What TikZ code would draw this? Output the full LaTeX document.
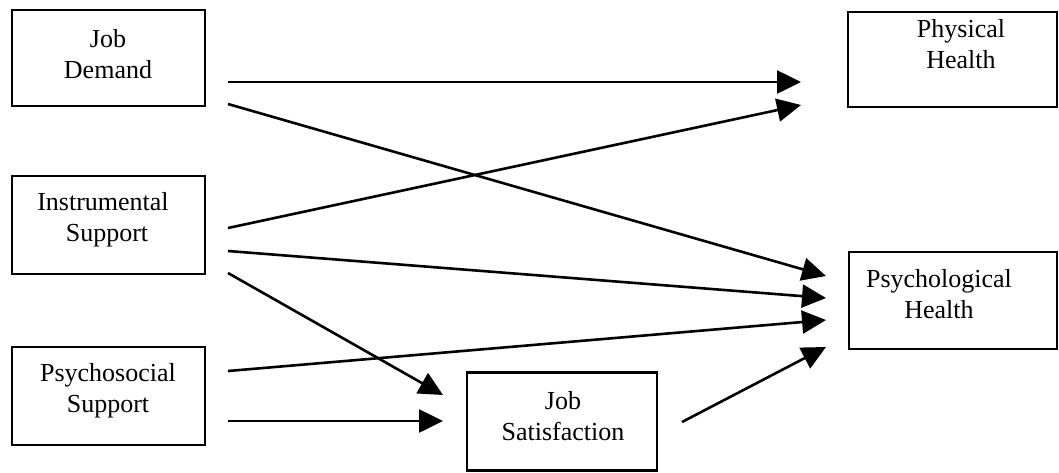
\documentclass[tikz,border=0pt]{standalone}
\usepackage{fontspec}
\setmainfont{Liberation Serif}
\usetikzlibrary{arrows.meta}
\begin{document}
\begin{tikzpicture}[x=1pt,y=-1pt,
  box/.style={draw=black,line width=2.6pt,rectangle,inner sep=0pt},
  txt/.style={align=center,inner sep=0pt,font=\fontsize{26}{31}\selectfont},
  arr/.style={line width=2.6pt,-{Triangle[length=24pt,width=23pt]}}]
\useasboundingbox (0,0) rectangle (1059,472);
% boxes
\node[box,minimum width=193pt,minimum height=96pt] (jd) at (108.5,58) {};
\node[box,minimum width=193pt,minimum height=98pt] (is) at (108.5,225) {};
\node[box,minimum width=193pt,minimum height=98pt] (ps) at (108.5,396) {};
\node[box,minimum width=209pt,minimum height=95pt] (ph) at (952.5,59.5) {};
\node[box,minimum width=208pt,minimum height=97pt] (pyh) at (953,300.5) {};
\node[box,minimum width=190pt,minimum height=98pt] (js) at (562,421.5) {};
% texts
\node[txt] (jdt) at (108,54) {Job\\Demand};
\node[txt] (ist) at (103,220) {Instrumental\\\hspace*{8pt}Support};
\node[txt] (pst) at (108,391) {Psychosocial\\Support};
\node[txt] (pht) at (961,44) {Physical\\Health};
\node[txt] (pyht) at (939,294) {Psychological\\Health};
\node[txt] (jst) at (563,416) {Job\\Satisfaction};
% connector end points
\coordinate (jd1) at (228,82);
\coordinate (jd2) at (228,104);
\coordinate (is1) at (228,228);
\coordinate (is2) at (228,251);
\coordinate (is3) at (228,273);
\coordinate (ps1) at (228,371);
\coordinate (ps2) at (228,421);
\coordinate (js1) at (682,422);
\coordinate (ph1) at (801,82);
\coordinate (ph2) at (801,105);
\coordinate (py1) at (826,276);
\coordinate (py2) at (826,298);
\coordinate (py3) at (826,320);
\coordinate (py4) at (826,347);
\coordinate (jsa) at (443,395);
\coordinate (jsb) at (443,421);
% connectors
\draw[arr] (jd1) -- (ph1);
\draw[arr] (jd2) -- (py1);
\draw[arr] (is1) -- (ph2);
\draw[arr] (is2) -- (py2);
\draw[arr] (is3) -- (jsa);
\draw[arr] (ps1) -- (py3);
\draw[arr] (ps2) -- (jsb);
\draw[arr] (js1) -- (py4);
\end{tikzpicture}
\end{document}
